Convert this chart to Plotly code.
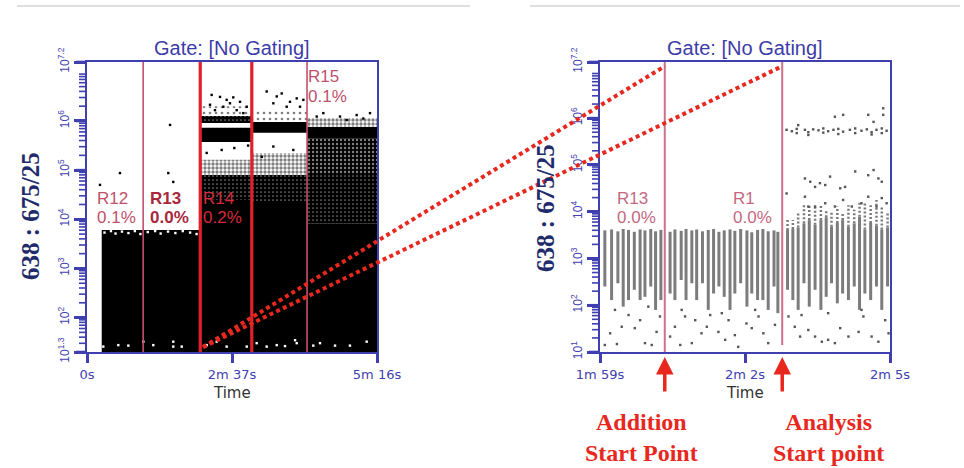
import math
import plotly.graph_objects as go

# ---------------- chart data ----------------
left_time_range = [0, 315]
left_log_range = [1.3, 7.2]
left_time_ticks = [0, 157.5, 315]
left_time_labels = ["0s", "2m 37s", "5m 16s"]
left_decades = [1.3, 2, 3, 4, 5, 6, 7.2]

right_time_range = [119, 125]
right_log_range = [1.0, 7.2]
right_time_ticks = [119, 122, 125]
right_time_labels = ["1m 59s", "2m 2s", "2m 5s"]
right_decades = [1, 2, 3, 4, 5, 6, 7.2]

# region gates (time, s)
left_gate_times = [61, 123, 179, 239]
left_region_names = ["R12", "R13", "R14", "R15"]
left_region_pcts = ["0.1%", "0.0%", "0.2%", "0.1%"]
left_label_times = [9.5, 67.5, 125, 238.5]
left_label_name_logs = [4.42, 4.42, 4.42, 6.90]
left_label_pct_logs = [4.04, 4.04, 4.04, 6.50]

right_gate_times = [120.34, 122.77]
right_gate_bottom_logs = [1.0, 1.15]
right_region_names = ["R13", "R1"]
right_region_pcts = ["0.0%", "0.0%"]
right_label_times = [119.33, 121.73]
right_label_name_logs = [4.29, 4.29]
right_label_pct_logs = [3.87, 3.87]

# left panel event-density blocks (time start/end, log10 low/high, density class)
block_start = [16, 123, 123, 123, 123, 123, 123, 179, 179, 179, 179, 179, 239, 239, 239, 239, 239]
block_end = [123, 179, 179, 179, 179, 179, 179, 239, 239, 239, 239, 239, 315, 315, 315, 315, 315]
block_low = [1.3, 1.3, 4.39, 4.90, 5.57, 5.96, 6.10, 1.3, 4.33, 4.90, 5.76, 5.98, 1.3, 3.92, 4.90, 5.65, 5.88]
block_high = [3.78, 4.39, 4.90, 5.21, 5.86, 6.10, 6.30, 4.33, 4.90, 5.35, 5.98, 6.25, 3.92, 4.90, 5.65, 5.88, 6.06]
block_density = ["solid", "solid", "dense", "medium", "solid", "dense", "sparse",
                 "solid", "dense", "medium", "solid", "sparse",
                 "solid", "dense", "dark", "solid", "medium"]

# isolated events on the left panel (black)
left_dark_t = [90.2, 35.8, 88.3, 93.7, 14.1,
               135.4, 144.5, 151.7, 158.9, 166.2, 133.6, 148.1, 162.6, 173.5, 139.0, 155.3, 169.8,
               195.2, 206.1, 211.5, 220.5, 227.8, 235.0, 202.4, 216.9, 231.4,
               256.7, 274.8, 292.9, 307.4, 300.1, 282.1, 249.5,
               146.3, 202.4, 224.1, 189.8, 160.0, 130.0, 175.0]
left_dark_log = [5.92, 4.94, 4.94, 4.76, 4.70,
                 6.53, 6.49, 6.43, 6.48, 6.39, 6.33, 6.29, 6.22, 6.29, 6.22, 6.36, 6.16,
                 6.60, 6.50, 6.56, 6.39, 6.46, 6.43, 6.36, 6.29, 6.29,
                 6.16, 6.09, 6.12, 6.16, 6.05, 6.02, 6.09,
                 5.41, 5.48, 5.41, 5.27, 5.45, 5.35, 5.50]
# gaps inside the dense black area (white)
left_light_t = [17.7, 34.0, 44.9, 61.2, 72.0, 93.7, 93.7, 102.9, 130.0, 140.9, 151.7, 173.5,
                184.3, 195.2, 206.1, 215.1, 226.0, 227.8, 245.8, 253.1, 269.4, 285.6, 303.8,
                19, 26, 31, 38, 45, 52, 58, 66, 74, 80, 88, 96, 104, 112, 119]
left_light_log = [1.41, 1.44, 1.43, 1.51, 1.44, 1.51, 1.41, 1.41, 1.44, 1.51, 1.41, 1.41,
                  1.48, 1.41, 1.44, 1.42, 1.54, 1.48, 1.43, 1.48, 1.43, 1.43, 1.51,
                  3.73, 3.76, 3.71, 3.75, 3.72, 3.76, 3.70, 3.74, 3.76, 3.71, 3.75, 3.72, 3.76, 3.73, 3.70]

# right panel: event columns (time, log10 low, log10 high, upper sparse extension)
col_t = [119.10, 119.24, 119.37, 119.48, 119.59, 119.71, 119.83, 119.93, 120.05, 120.15, 120.26,
         120.45, 120.55, 120.68, 120.78, 120.90, 121.00, 121.12, 121.24, 121.35, 121.46, 121.57,
         121.69, 121.79, 121.91, 122.04, 122.14, 122.26, 122.37, 122.48, 122.60, 122.68,
         122.88, 122.99, 123.10, 123.22, 123.33, 123.45, 123.57, 123.68, 123.79, 123.91,
         124.02, 124.14, 124.26, 124.37, 124.48, 124.60, 124.72, 124.83, 124.95]
col_low = [2.40, 2.11, 2.47, 1.97, 2.11, 2.33, 2.11, 2.18, 2.40, 1.90, 2.11,
           2.25, 2.11, 2.54, 2.11, 2.47, 2.11, 2.47, 1.90, 2.25, 2.40, 2.18,
           1.90, 2.25, 2.47, 1.97, 2.25, 2.11, 2.11, 1.90, 2.40, 1.83,
           2.33, 2.11, 1.90, 2.47, 1.97, 2.33, 1.90, 2.18, 2.47, 2.04,
           2.25, 2.11, 2.40, 1.90, 2.25, 2.11, 2.40, 1.90, 2.40]
col_high = [3.60, 3.62, 3.58, 3.63, 3.61, 3.57, 3.62, 3.60, 3.63, 3.58, 3.61,
            3.57, 3.62, 3.59, 3.63, 3.60, 3.62, 3.58, 3.61, 3.63, 3.57, 3.60,
            3.62, 3.59, 3.63, 3.60, 3.56, 3.61, 3.63, 3.58, 3.60, 3.57,
            3.61, 3.63, 3.66, 3.75, 3.82, 3.72, 3.82, 3.88, 3.68, 3.76,
            3.82, 3.68, 3.75, 3.89, 3.62, 3.76, 3.70, 3.62, 3.66]
col_ext = [None] * 32 + [3.85, 3.82, 3.97, 4.18, 4.14, 4.11, 4.14, 4.04, 4.00, 4.11,
                         3.97, 4.14, 4.04, 4.21, 4.18, 4.14, 4.25, 4.11, 3.97]

# right panel isolated events
right_dot_t = [119.10, 119.35, 119.21, 119.45, 119.59, 119.72, 119.83, 119.93, 120.07, 120.17, 120.24,
               120.45, 120.55, 120.66, 120.76, 120.90, 120.97, 121.10, 121.21, 121.28, 121.45, 121.59,
               121.66, 121.79, 121.86, 122.03, 122.14, 122.28, 122.38, 122.48, 122.62, 122.90, 123.03,
               123.14, 123.31, 123.45, 123.59, 123.72, 123.86, 123.97, 124.14, 124.35, 124.45, 124.62,
               124.76, 124.90, 124.97, 119.31, 120.00, 120.69, 121.52, 122.21, 123.17, 123.72, 124.41,
               122.86, 122.97, 123.07, 123.24, 123.31, 123.41, 123.52, 123.62, 123.72, 123.83, 123.93,
               124.03, 124.17, 124.28, 124.41, 124.52, 124.62, 124.72, 124.83, 124.93,
               123.07, 123.31, 123.62, 123.93, 124.28, 124.62, 124.83,
               123.86, 124.03, 124.55, 124.66, 124.86, 124.86, 123.10,
               122.86, 123.24, 123.35, 123.45, 123.55, 123.66, 123.76, 123.97, 124.07, 124.28, 124.55,
               124.66, 124.76, 124.83, 123.24, 123.31, 123.45, 123.66, 123.86, 124.03, 124.21, 124.41,
               124.55, 124.72, 124.83, 124.93]
right_dot_log = [1.15, 1.17, 1.40, 1.54, 1.79, 1.51, 1.68, 1.19, 1.15, 1.43, 1.76,
                 1.33, 1.54, 1.15, 1.76, 1.19, 1.68, 1.40, 1.54, 1.79, 1.43, 1.26,
                 1.68, 1.36, 1.11, 1.61, 1.51, 1.76, 1.40, 1.19, 1.58, 1.76, 1.54,
                 1.33, 1.47, 1.33, 1.22, 1.26, 1.19, 1.51, 1.33, 1.43, 1.76, 1.33,
                 1.22, 1.68, 1.40, 1.90, 1.97, 1.90, 1.83, 1.90, 1.79, 1.83, 1.90,
                 5.75, 5.72, 5.77, 5.75, 5.70, 5.76, 5.74, 5.78, 5.72, 5.75, 5.77,
                 5.71, 5.75, 5.78, 5.73, 5.76, 5.70, 5.75, 5.78, 5.73,
                 5.68, 5.64, 5.69, 5.66, 5.68, 5.65, 5.68,
                 6.03, 6.07, 6.07, 5.92, 6.21, 6.07, 5.85,
                 4.39, 4.71, 4.64, 4.53, 4.61, 4.57, 4.75, 4.50, 4.53, 4.86, 4.78,
                 4.89, 4.71, 4.64, 4.32, 4.11, 4.11, 4.18, 4.11, 4.25, 4.11, 4.18,
                 4.32, 4.11, 4.29, 4.18]

# connector: from left-panel point to the tops of the two right-panel gates
connector_start = (126, 1.40)
connector_end_log = 7.11

# ---------------- layout geometry ----------------
W, H = 964, 468
LX = [87 / W, 377 / W]
RX = [600 / W, 890 / W]
YD = [116 / H, 406 / H]
AX = "#3f3fb0"
TXT_BLUE = "#4040b0"
RED = "#e8281e"


def to_paper(t, lg, trange, lrange, xdom):
    px = xdom[0] + (t - trange[0]) / (trange[1] - trange[0]) * (xdom[1] - xdom[0])
    py = YD[0] + (lg - lrange[0]) / (lrange[1] - lrange[0]) * (YD[1] - YD[0])
    return px, py


fig = go.Figure()

density_style = {
    "solid": dict(fillcolor="black"),
    "dense": dict(fillcolor="black",
                  fillpattern=dict(shape=".", bgcolor="black", fgcolor="white", size=4, solidity=0.14)),
    "dark": dict(fillcolor="black",
                 fillpattern=dict(shape=".", bgcolor="black", fgcolor="white", size=4, solidity=0.28)),
    "medium": dict(fillcolor="white",
                   fillpattern=dict(shape=".", bgcolor="white", fgcolor="black", size=4, solidity=0.55)),
    "sparse": dict(fillcolor="white",
                   fillpattern=dict(shape=".", bgcolor="white", fgcolor="black", size=6, solidity=0.16)),
}

for t0, t1, lo, hi, kind in zip(block_start, block_end, block_low, block_high, block_density):
    fig.add_trace(go.Scatter(
        x=[t0, t1, t1, t0, t0],
        y=[10 ** lo, 10 ** lo, 10 ** hi, 10 ** hi, 10 ** lo],
        mode="lines", line=dict(width=0), fill="toself",
        hoverinfo="skip", xaxis="x", yaxis="y", **density_style[kind]))

fig.add_trace(go.Scatter(x=left_dark_t, y=[10 ** v for v in left_dark_log], mode="markers",
                         marker=dict(size=2.4, color="black", symbol="square"),
                         hoverinfo="skip", xaxis="x", yaxis="y"))
fig.add_trace(go.Scatter(x=left_light_t, y=[10 ** v for v in left_light_log], mode="markers",
                         marker=dict(size=2.4, color="white", symbol="square"),
                         hoverinfo="skip", xaxis="x", yaxis="y"))

left_gate_style = [("#c4506e", 1.6), ("#e0202c", 3.2), ("#e0202c", 3.2), ("#c4506e", 1.6)]
for t, (c, w) in zip(left_gate_times, left_gate_style):
    fig.add_trace(go.Scatter(x=[t, t], y=[10 ** left_log_range[0], 10 ** left_log_range[1]],
                             mode="lines", line=dict(color=c, width=w),
                             hoverinfo="skip", xaxis="x", yaxis="y"))

# right panel columns
cx, cy = [], []
for t, lo, hi in zip(col_t, col_low, col_high):
    cx += [t, t, None]
    cy += [10 ** lo, 10 ** hi, None]
fig.add_trace(go.Scatter(x=cx, y=cy, mode="lines", line=dict(color="#7c7c7c", width=3),
                         hoverinfo="skip", xaxis="x2", yaxis="y2"))
ex, ey = [], []
for t, hi, top in zip(col_t, col_high, col_ext):
    if top is not None:
        ex += [t, t, None]
        ey += [10 ** hi, 10 ** top, None]
fig.add_trace(go.Scatter(x=ex, y=ey, mode="lines", line=dict(color="#7a7a7a", width=2.5, dash="2px,2px"),
                         hoverinfo="skip", xaxis="x2", yaxis="y2"))
fig.add_trace(go.Scatter(x=right_dot_t, y=[10 ** v for v in right_dot_log], mode="markers",
                         marker=dict(size=2.4, color="#555555", symbol="square"),
                         hoverinfo="skip", xaxis="x2", yaxis="y2"))
for t, b in zip(right_gate_times, right_gate_bottom_logs):
    fig.add_trace(go.Scatter(x=[t, t], y=[10 ** b, 10 ** right_log_range[1]], mode="lines",
                             line=dict(color="#cf6f8a", width=2),
                             hoverinfo="skip", xaxis="x2", yaxis="y2"))


def minor_vals(lrange):
    out = []
    for d in range(0, 8):
        for k in range(2, 10):
            v = k * 10 ** d
            if 10 ** lrange[0] < v < 10 ** lrange[1]:
                out.append(v)
    return out


# y-axis tick marks drawn on a full-figure overlay (pixel coordinates derived from the axes)
for lrange, decs, dom in ((left_log_range, left_decades, LX), (right_log_range, right_decades, RX)):
    ax_px = dom[0] * W
    for vals, length, width in (([math.log10(v) for v in minor_vals(lrange)], 8, 1.6), (decs, 11, 2.6)):
        tx, ty = [], []
        for lg in vals:
            _, py = to_paper(0, lg, [0, 1], lrange, dom)
            ypx = (1 - py) * H
            tx += [ax_px - length, ax_px, None]
            ty += [ypx, ypx, None]
        fig.add_trace(go.Scatter(x=tx, y=ty, mode="lines", line=dict(color=AX, width=width),
                                 hoverinfo="skip", xaxis="x3", yaxis="y3"))


def yaxis(lrange, decs, anchor):
    return dict(type="log", range=lrange, domain=YD, anchor=anchor, automargin=False,
                showgrid=False, zeroline=False, showline=True, linecolor=AX, linewidth=2,
                mirror=True, ticks="outside", ticklen=11, tickwidth=2.6, tickcolor=AX,
                tickmode="array",
                tickvals=[10 ** e for e in decs],
                ticktext=["10<sup>%g</sup>" % e for e in decs],
                tickangle=-90,
                tickfont=dict(family="Liberation Sans", size=12, color=TXT_BLUE))


def xaxis(trange, tv, tt, dom, anchor):
    return dict(range=trange, domain=dom, anchor=anchor, automargin=False,
                showgrid=False, zeroline=False,
                showline=True, linecolor=AX, linewidth=2, mirror=True,
                ticks="outside", ticklen=9, tickwidth=2.5, tickcolor=AX,
                tickmode="array", tickvals=tv, ticktext=tt,
                tickfont=dict(family="DejaVu Sans", size=13, color=TXT_BLUE))


annotations = []
for dom in (LX, RX):
    cxp = (dom[0] + dom[1]) / 2
    annotations.append(dict(x=cxp, y=1 - 48 / H, xref="paper", yref="paper", showarrow=False,
                            text="Gate: [No Gating]", xanchor="center", yanchor="middle",
                            font=dict(family="Liberation Sans", size=20, color="#3c3ca8")))
    annotations.append(dict(x=cxp, y=1 - 393 / H, xref="paper", yref="paper", showarrow=False,
                            text="Time", xanchor="center", yanchor="middle",
                            font=dict(family="DejaVu Sans", size=15, color="#333333")))

for xp, yp in ((30, 216), (545, 208)):
    annotations.append(dict(x=xp / W, y=1 - yp / H, xref="paper", yref="paper", showarrow=False,
                            text="<b>638 : 675/25</b>", textangle=-90,
                            xanchor="center", yanchor="middle",
                            font=dict(family="Liberation Serif", size=25, color="#1f2b6b")))

left_label_colors = ["#c0506c", "#a8283c", "#d8283a", "#c0506c"]
for i, (nm, pc, t, ln, lp) in enumerate(zip(left_region_names, left_region_pcts, left_label_times,
                                            left_label_name_logs, left_label_pct_logs)):
    for txt, lg in ((nm, ln), (pc, lp)):
        annotations.append(dict(x=t, y=lg, xref="x", yref="y", showarrow=False,
                                text=("<b>%s</b>" % txt) if i == 1 else txt,
                                xanchor="left", yanchor="middle", borderpad=0,
                                font=dict(family="Liberation Sans", size=17, color=left_label_colors[i])))
for nm, pc, t, ln, lp in zip(right_region_names, right_region_pcts, right_label_times,
                             right_label_name_logs, right_label_pct_logs):
    for txt, lg in ((nm, ln), (pc, lp)):
        annotations.append(dict(x=t, y=lg, xref="x2", yref="y2", showarrow=False, text=txt,
                                xanchor="left", yanchor="middle", borderpad=0,
                                font=dict(family="Liberation Sans", size=17, color="#c46882")))

for t in right_gate_times:
    annotations.append(dict(x=t, y=1 - 357 / H, xref="x2", yref="paper", text="", showarrow=True,
                            ax=0, ay=36, arrowhead=2, arrowsize=1, arrowwidth=3.5, arrowcolor=RED))

for xp, txt in ((641, "Addition<br>Start Point"), (828, "Analysis<br>Start point")):
    annotations.append(dict(x=xp / W, y=1 - 437 / H, xref="paper", yref="paper", showarrow=False,
                            text="<b>%s</b>" % txt, xanchor="center", yanchor="middle",
                            font=dict(family="Liberation Serif", size=24, color=RED)))

shapes = []
sx, sy = to_paper(connector_start[0], connector_start[1], left_time_range, left_log_range, LX)
for t in right_gate_times:
    exn, eyn = to_paper(t, connector_end_log, right_time_range, right_log_range, RX)
    shapes.append(dict(type="line", xref="paper", yref="paper", x0=sx, y0=sy, x1=exn, y1=eyn,
                       line=dict(color=RED, width=4, dash="4px,3.4px")))
for x0, x1 in ((17, 470), (530, 960)):
    shapes.append(dict(type="line", xref="paper", yref="paper", x0=x0 / W, x1=x1 / W,
                       y0=1 - 6 / H, y1=1 - 6 / H, line=dict(color="#d4d4d4", width=1.5)))

fig.update_layout(
    width=W, height=H, autosize=False,
    margin=dict(l=0, r=0, t=0, b=0, pad=0),
    paper_bgcolor="white", plot_bgcolor="rgba(0,0,0,0)", showlegend=False,
    xaxis=xaxis(left_time_range, left_time_ticks, left_time_labels, LX, "y"),
    yaxis=yaxis(left_log_range, left_decades, "x"),
    xaxis2=xaxis(right_time_range, right_time_ticks, right_time_labels, RX, "y2"),
    yaxis2=yaxis(right_log_range, right_decades, "x2"),
    xaxis3=dict(domain=[0, 1], range=[0, W], anchor="y3", visible=False, fixedrange=True),
    yaxis3=dict(domain=[0, 1], range=[H, 0], anchor="x3", visible=False, fixedrange=True),
    annotations=annotations, shapes=shapes,
)

fig.write_html("out.html")
